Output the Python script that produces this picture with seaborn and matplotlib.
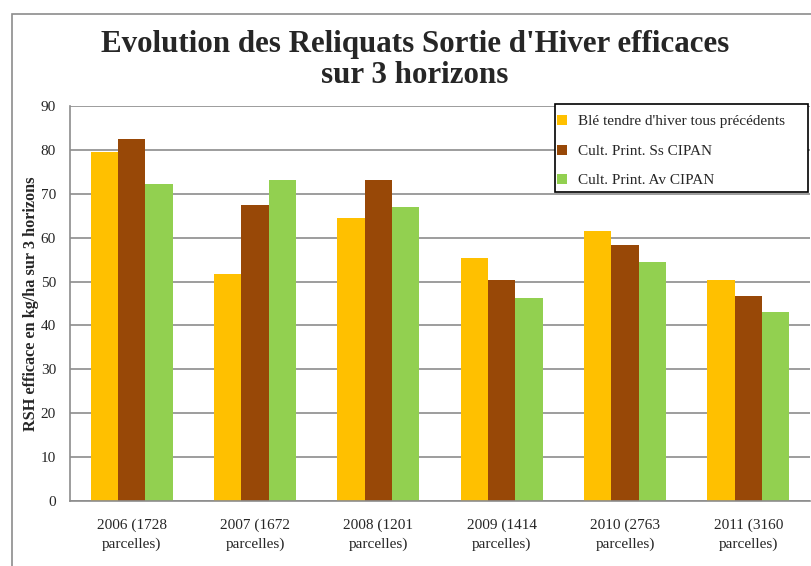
import matplotlib
matplotlib.use("Agg")
import matplotlib.pyplot as plt
import seaborn as sns
import pandas as pd
from matplotlib.patches import Rectangle

categories = ["2006 (1728\nparcelles)", "2007 (1672\nparcelles)", "2008 (1201\nparcelles)",
              "2009 (1414\nparcelles)", "2010 (2763\nparcelles)", "2011 (3160\nparcelles)"]
series = ["Blé tendre d'hiver tous précédents", "Cult. Print. Ss CIPAN", "Cult. Print. Av CIPAN"]
ble = [79.5, 51.7, 64.5, 55.3, 61.5, 50.4]
ss_cipan = [82.5, 67.4, 73.1, 50.4, 58.3, 46.6]
av_cipan = [72.2, 73.1, 67.0, 46.3, 54.5, 43.1]
colors = ["#FFC000", "#984807", "#92D050"]
yticks = [0, 10, 20, 30, 40, 50, 60, 70, 80, 90]

rows = []
for s, vals in zip(series, [ble, ss_cipan, av_cipan]):
    for c, v in zip(categories, vals):
        rows.append({"cat": c, "series": s, "val": v})
df = pd.DataFrame(rows)

sns.set_style("white")
plt.rcParams["font.family"] = ["Liberation Serif", "DejaVu Serif"]

W, H = 811, 566
fig = plt.figure(figsize=(W / 100, H / 100), dpi=100)
ax = fig.add_axes([70 / W, 1 - 501 / H, (810 - 70) / W, (501 - 106) / H])

sns.barplot(data=df, x="cat", y="val", hue="series", order=categories, hue_order=series,
            palette=colors, width=0.665, gap=0, ax=ax, linewidth=0, saturation=1, legend=True)

ax.set_ylim(0, 90)
ax.set_xlim(-0.5, len(categories) - 0.5)
ax.set_yticks(yticks)
ax.set_yticklabels([str(t) for t in yticks], fontsize=11)
ax.yaxis.grid(True, color="#8c8c8c", linewidth=1.2)
ax.set_axisbelow(True)
ax.set_xlabel("")
ax.set_ylabel("RSH efficace en kg/ha sur 3 horizons", fontsize=11.7, fontweight="bold", labelpad=1)
for sp in ["top", "right"]:
    ax.spines[sp].set_visible(False)
for sp in ["left", "bottom"]:
    ax.spines[sp].set_color("#8c8c8c")
    ax.spines[sp].set_linewidth(1.2)

# category boundary ticks on x axis
ax.set_xticks([i - 0.5 for i in range(len(categories) + 1)])
ax.set_xticklabels([])
ax.tick_params(axis="x", direction="out", length=5, color="#8c8c8c", width=1.2)
ax.tick_params(axis="y", direction="out", length=4, color="#8c8c8c", width=1.2, pad=6)
for i, c in enumerate(categories):
    ax.text(i, -0.045, c, transform=ax.get_xaxis_transform(), ha="center", va="top",
            fontsize=11, linespacing=1.55)

# legend box (drawn separately to match the reference frame size)
box = Rectangle((555 / W, 1 - 192 / H), (808 - 555) / W, (192 - 104) / H, transform=fig.transFigure,
                facecolor="white", edgecolor="black", linewidth=1.2, clip_on=False, zorder=4.5)
ax.add_patch(box)
handles, labels = ax.get_legend_handles_labels()
leg = ax.legend(handles, labels, loc="upper left", bbox_to_anchor=(557 / W, 1 - 115 / H),
                bbox_transform=fig.transFigure, borderaxespad=0, frameon=False,
                fontsize=11, handlelength=0.65, handleheight=0.65,
                handletextpad=0.75, labelspacing=1.05, borderpad=0)
leg.set_zorder(6)

fig.text(415 / W, 1 - 60 / H, "Evolution des Reliquats Sortie d'Hiver efficaces\nsur 3 horizons",
         ha="center", va="center", fontsize=22.3, fontweight="bold", linespacing=1.05)

fig.patches.append(Rectangle((12 / W, -0.1), 1.2, 1 - 14 / H + 0.1, transform=fig.transFigure,
                             fill=False, edgecolor="#8c8c8c", linewidth=1.2))

fig.savefig("out.png", dpi=100)
